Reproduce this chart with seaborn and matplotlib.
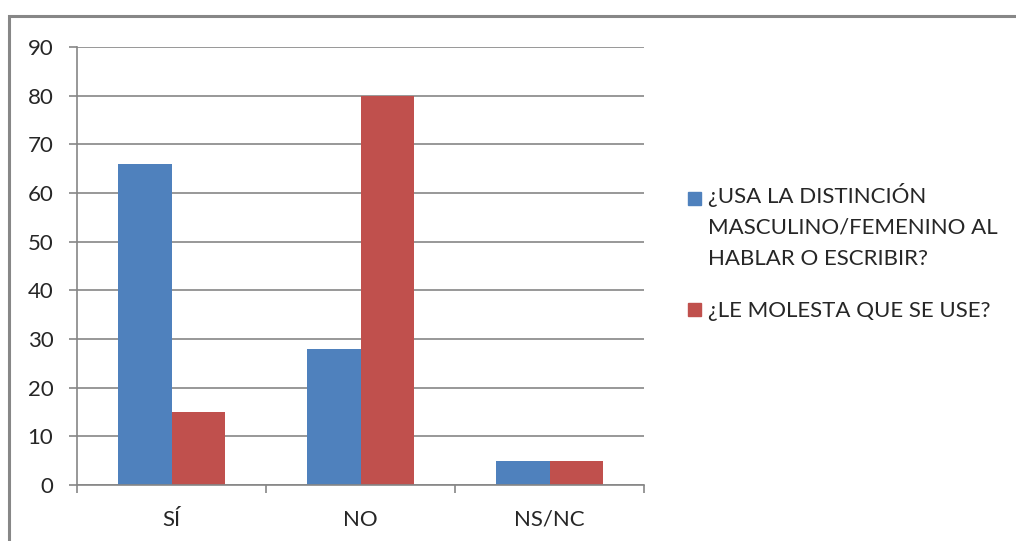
import pandas as pd
import matplotlib.pyplot as plt
import matplotlib.patches as mpatches
import seaborn as sns

# data
categories = ['SÍ', 'NO', 'NS/NC']
usa_distincion = [66, 28, 5]
le_molesta = [15, 80, 5]
series_names = ['¿USA LA DISTINCIÓN\nMASCULINO/FEMENINO AL\nHABLAR O ESCRIBIR?',
                '¿LE MOLESTA QUE SE USE?']
colors = ['#4F81BD', '#C0504D']

df = pd.DataFrame({
    'categoria': categories * 2,
    'valor': usa_distincion + le_molesta,
    'serie': [series_names[0]] * 3 + [series_names[1]] * 3,
})

sns.set_style('white')
plt.rcParams['font.family'] = ['Lato', 'DejaVu Sans']

fig = plt.figure(figsize=(10.16, 5.41), dpi=100)
ax = fig.add_axes([77 / 1016, 56 / 541, 567 / 1016, 438 / 541])

sns.barplot(data=df, x='categoria', y='valor', hue='serie', palette=colors,
            width=0.57, saturation=1, linewidth=0, ax=ax, legend=False)

ax.set_ylim(0, 90)
ax.set_xlim(-0.5, 2.5)
ax.set_yticks(range(0, 91, 10))
ax.yaxis.grid(True, color='#868686', linewidth=1.2)
ax.set_axisbelow(True)
ax.set_xlabel('')
ax.set_ylabel('')

for side in ['top', 'right']:
    ax.spines[side].set_visible(False)
for side in ['left', 'bottom']:
    ax.spines[side].set_color('#868686')
    ax.spines[side].set_linewidth(1.2)

ax.tick_params(axis='y', length=6, width=1.2, color='#868686', labelsize=16, pad=11, left=True)
ax.set_xticks([-0.5, 0.5, 1.5, 2.5], minor=True)
ax.tick_params(axis='x', which='major', length=0, labelsize=16, pad=18)
ax.tick_params(axis='x', which='minor', length=6, width=1.2, color='#868686', bottom=True)

# legend drawn by hand so the marker sits on the first text line
text_tops = [183, 301]
square_tops = [192, 303]
for name, col, top, sq in zip(series_names, colors, text_tops, square_tops):
    fig.patches.append(mpatches.Rectangle((688 / 1016, 1 - (sq + 13) / 541), 13 / 1016, 13 / 541,
                                          transform=fig.transFigure, color=col))
    fig.text(708 / 1016, 1 - top / 541, name, fontsize=16, va='top', ha='left',
             linespacing=1.68)

# outer chart frame
fig.patches.append(mpatches.Rectangle((9 / 1016, -0.05), 1.1, 1 - 16 / 541 + 0.05,
                                      transform=fig.transFigure, fill=False,
                                      edgecolor='#878787', linewidth=2.2))

fig.savefig('out.png', dpi=100)
